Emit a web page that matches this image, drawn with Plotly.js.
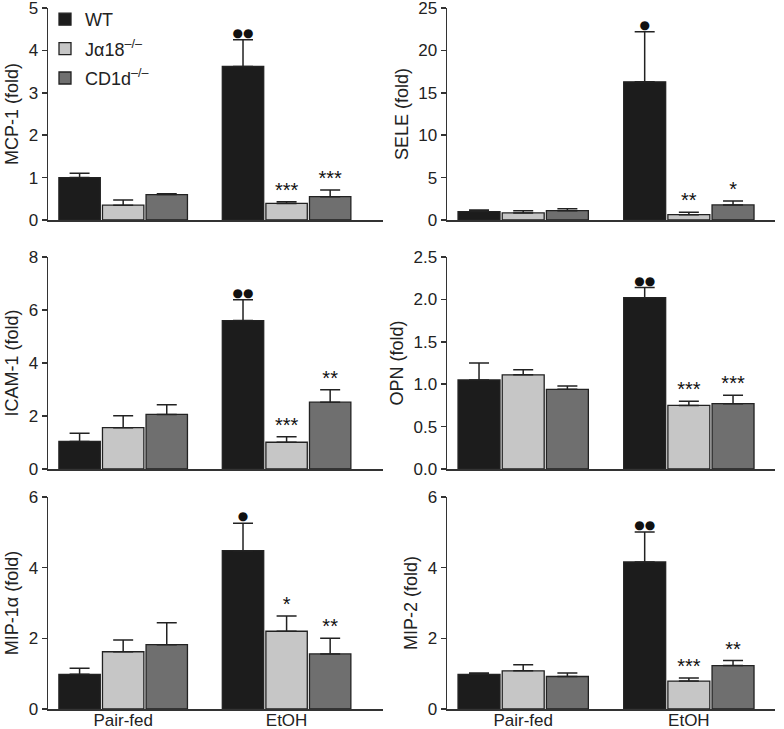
<!DOCTYPE html>
<html>
<head>
<meta charset="utf-8">
<script src="https://cdn.plot.ly/plotly-3.0.1.min.js"></script>
<style>html,body{margin:0;padding:0;background:#fff;}#chart{width:784px;height:729px;}</style>
</head>
<body>
<div id="chart"></div>
<script>
// ---- data ----
const groups = ['Pair-fed', 'EtOH'];
const genotypeNames = ['WT', 'J\u03b118<sup>\u2013/\u2013</sup>', 'CD1d<sup>\u2013/\u2013</sup>'];
const genotypeColors = ['#1c1c1c', '#c6c6c6', '#6f6f6f'];

// MCP-1
const mcpWT = [1.00, 3.62], mcpWTsem = [0.10, 0.63];
const mcpJa = [0.35, 0.39], mcpJasem = [0.12, 0.04];
const mcpCD = [0.60, 0.55], mcpCDsem = [0.02, 0.16];
const mcpSigWT = ['', '\u25cf\u25cf'], mcpSigJa = ['', '***'], mcpSigCD = ['', '***'];
// SELE
const seleWT = [0.99, 16.3], seleWTsem = [0.19, 5.9];
const seleJa = [0.83, 0.63], seleJasem = [0.27, 0.27];
const seleCD = [1.10, 1.78], seleCDsem = [0.24, 0.47];
const seleSigWT = ['', '\u25cf'], seleSigJa = ['', '**'], seleSigCD = ['', '*'];
// ICAM-1
const icamWT = [1.04, 5.60], icamWTsem = [0.31, 0.79];
const icamJa = [1.56, 1.01], icamJasem = [0.45, 0.21];
const icamCD = [2.06, 2.52], icamCDsem = [0.36, 0.47];
const icamSigWT = ['', '\u25cf\u25cf'], icamSigJa = ['', '***'], icamSigCD = ['', '**'];
// OPN
const opnWT = [1.05, 2.02], opnWTsem = [0.20, 0.12];
const opnJa = [1.11, 0.75], opnJasem = [0.06, 0.05];
const opnCD = [0.94, 0.77], opnCDsem = [0.04, 0.10];
const opnSigWT = ['', '\u25cf\u25cf'], opnSigJa = ['', '***'], opnSigCD = ['', '***'];
// MIP-1alpha
const mip1WT = [0.98, 4.48], mip1WTsem = [0.17, 0.78];
const mip1Ja = [1.62, 2.20], mip1Jasem = [0.33, 0.43];
const mip1CD = [1.82, 1.56], mip1CDsem = [0.62, 0.44];
const mip1SigWT = ['', '\u25cf'], mip1SigJa = ['', '*'], mip1SigCD = ['', '**'];
// MIP-2
const mip2WT = [0.98, 4.16], mip2WTsem = [0.04, 0.85];
const mip2Ja = [1.08, 0.79], mip2Jasem = [0.17, 0.09];
const mip2CD = [0.92, 1.23], mip2CDsem = [0.10, 0.14];
const mip2SigWT = ['', '\u25cf\u25cf'], mip2SigJa = ['', '***'], mip2SigCD = ['', '**'];

const yTitles = ['MCP-1 (fold)', 'SELE (fold)', 'ICAM-1 (fold)', 'OPN (fold)', 'MIP-1\u03b1 (fold)', 'MIP-2 (fold)'];
const yTicks = [[0,1,2,3,4,5], [0,5,10,15,20,25], [0,2,4,6,8], [0,0.5,1,1.5,2,2.5], [0,2,4,6], [0,2,4,6]];
const yTickText = [['0','1','2','3','4','5'], ['0','5','10','15','20','25'], ['0','2','4','6','8'], ['0.0','0.5','1.0','1.5','2.0','2.5'], ['0','2','4','6'], ['0','2','4','6']];

// ---- build ----
const panels = [
  {vals:[mcpWT, mcpJa, mcpCD], sem:[mcpWTsem, mcpJasem, mcpCDsem], sig:[mcpSigWT, mcpSigJa, mcpSigCD]},
  {vals:[seleWT, seleJa, seleCD], sem:[seleWTsem, seleJasem, seleCDsem], sig:[seleSigWT, seleSigJa, seleSigCD]},
  {vals:[icamWT, icamJa, icamCD], sem:[icamWTsem, icamJasem, icamCDsem], sig:[icamSigWT, icamSigJa, icamSigCD]},
  {vals:[opnWT, opnJa, opnCD], sem:[opnWTsem, opnJasem, opnCDsem], sig:[opnSigWT, opnSigJa, opnSigCD]},
  {vals:[mip1WT, mip1Ja, mip1CD], sem:[mip1WTsem, mip1Jasem, mip1CDsem], sig:[mip1SigWT, mip1SigJa, mip1SigCD]},
  {vals:[mip2WT, mip2Ja, mip2CD], sem:[mip2WTsem, mip2Jasem, mip2CDsem], sig:[mip2SigWT, mip2SigJa, mip2SigCD]}
];

const W = 784, H = 729;
const xDoms = [[48/W, 383/W], [447/W, 775/W]];
const xRanges = [[-0.46, 1.59], [-0.46, 1.52]];
const yDoms = [[1-220/H, 1-8/H], [1-469/H, 1-257/H], [1-709/H, 1-497/H]];
const offsetNames = ['wt', 'ja', 'cd'];
const FONT = 'Liberation Sans, Arial, Helvetica, sans-serif';
const AX = '#333333';

const traces = [];
const layout = {
  width: W, height: H,
  margin: {l:0, r:0, t:0, b:0},
  paper_bgcolor: '#ffffff', plot_bgcolor: 'rgba(0,0,0,0)',
  font: {family: FONT, size: 16, color: '#222'},
  barmode: 'group', bargap: 0.2, bargroupgap: 0.05,
  scattermode: 'group', scattergap: 0.2,
  showlegend: true,
  legend: {x: 45/W, y: 1-1/H, xanchor: 'left', yanchor: 'top', bgcolor: 'rgba(0,0,0,0)',
           font: {family: FONT, size: 18, color: '#222'}, traceorder: 'grouped', tracegroupgap: 3},
  hovermode: false
};

panels.forEach((p, i) => {
  const n = i + 1;
  const col = i % 2, row = Math.floor(i / 2);
  const xa = 'x' + (n === 1 ? '' : n), ya = 'y' + (n === 1 ? '' : n);
  for (let g = 0; g < 3; g++) {
    traces.push({
      type: 'bar', x: groups, y: p.vals[g], xaxis: xa, yaxis: ya,
      name: genotypeNames[g], legendgroup: offsetNames[g], showlegend: i === 0,
      offsetgroup: offsetNames[g],
      marker: {color: genotypeColors[g], line: {color: '#222', width: 1.3}},
      error_y: {type: 'data', symmetric: false, array: p.sem[g], arrayminus: p.sem[g].map(() => 0),
                color: '#222', thickness: 1.5, width: 10}
    });
  }
  for (let g = 0; g < 3; g++) {
    const isDot = p.sig[g].some(s => s.indexOf('\u25cf') >= 0);
    traces.push({
      type: 'scatter', mode: 'text', x: groups, y: p.vals[g].map((v, k) => v + p.sem[g][k]),
      xaxis: xa, yaxis: ya, showlegend: false, offsetgroup: offsetNames[g],
      text: p.sig[g], textposition: 'top center', cliponaxis: false,
      textfont: {family: isDot ? 'DejaVu Sans, sans-serif' : FONT, size: isDot ? 12 : 20, color: '#111'}
    });
  }
  const xKey = 'xaxis' + (n === 1 ? '' : n), yKey = 'yaxis' + (n === 1 ? '' : n);
  layout[xKey] = {
    domain: xDoms[col], anchor: ya, type: 'category', range: xRanges[col],
    showline: true, linecolor: AX, linewidth: 1.5, ticks: '', ticklen: 0, showgrid: false, zeroline: false,
    showticklabels: row === 2, ticklabeloverflow: 'allow', ticklabelstandoff: -5,
    tickfont: {family: FONT, size: 17, color: '#222'}, fixedrange: true
  };
  layout[yKey] = {
    domain: yDoms[row], anchor: xa, range: [yTicks[i][0], yTicks[i][yTicks[i].length-1]],
    tickmode: 'array', tickvals: yTicks[i], ticktext: yTickText[i], ticklabeloverflow: 'allow',
    showline: true, linecolor: AX, linewidth: 1.5, ticks: 'outside', ticklen: 5, tickwidth: 1.5, tickcolor: AX,
    showgrid: false, zeroline: false, tickfont: {family: FONT, size: 17, color: '#222'},
    title: {text: yTitles[i], font: {family: FONT, size: 18, color: '#222'}, standoff: 5}, fixedrange: true
  };
});

Plotly.newPlot('chart', traces, layout, {staticPlot: true, displayModeBar: false});
</script>
</body>
</html>
